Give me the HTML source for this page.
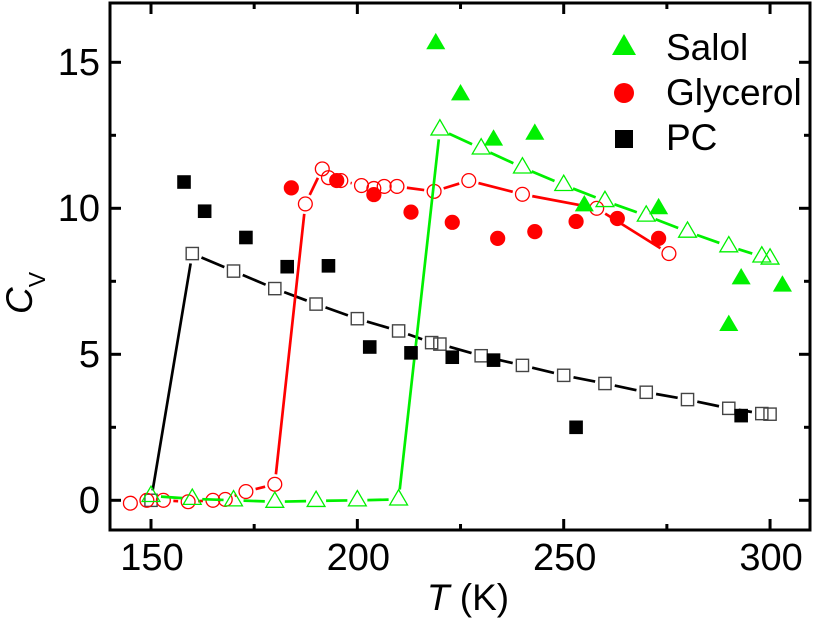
<!DOCTYPE html>
<html>
<head>
<meta charset="utf-8">
<style>
html,body{margin:0;padding:0;background:#fff;width:817px;height:620px;overflow:hidden}
svg{display:block}
text{font-family:"Liberation Sans",Arial,sans-serif;fill:#000}
</style>
</head>
<body>
<svg id="chart" width="817" height="620" viewBox="0 0 817 620" xmlns="http://www.w3.org/2000/svg"></svg>
<script>
var xTicks = [150, 200, 250, 300];
var xMinorTicks = [175, 225, 275];
var yTicks = [0, 5, 10, 15];
var yMinorTicks = [2.5, 7.5, 12.5];

var pcOpenT = [150, 160, 170, 180, 190, 200, 210, 218, 220, 230, 240, 250, 260, 270, 280, 290, 298, 300];
var pcOpenC = [0.0, 8.45, 7.85, 7.25, 6.72, 6.22, 5.8, 5.4, 5.35, 4.95, 4.62, 4.28, 4.0, 3.7, 3.45, 3.15, 2.97, 2.95];
var glycerolOpenT = [145, 149, 153, 159, 165, 168, 173, 180, 187.4, 191.5, 193, 196, 201, 204, 206.5, 209.6, 218.6, 227, 240, 258, 275.5];
var glycerolOpenC = [-0.1, 0.0, 0.0, -0.05, 0.0, 0.03, 0.3, 0.55, 10.15, 11.35, 11.05, 10.95, 10.78, 10.68, 10.75, 10.75, 10.58, 10.95, 10.48, 10.0, 8.45];
var salolOpenT = [150, 160, 170, 180, 190, 200, 210, 220, 230, 240, 250, 260, 270, 280, 290, 298, 300];
var salolOpenC = [0.15, 0.05, 0.0, -0.05, -0.02, 0.0, 0.03, 12.7, 12.05, 11.4, 10.8, 10.25, 9.75, 9.2, 8.7, 8.35, 8.28];

var pcSolidT = [158, 163, 173, 183, 193, 203, 213, 223, 233, 253, 293];
var pcSolidC = [10.9, 9.9, 9.0, 8.0, 8.03, 5.25, 5.05, 4.9, 4.8, 2.5, 2.9];
var glycerolSolidT = [184, 195, 204, 213, 223, 234, 243, 253, 263, 273];
var glycerolSolidC = [10.7, 10.95, 10.47, 9.87, 9.52, 8.97, 9.2, 9.55, 9.65, 8.97];
var salolSolidT = [219, 225, 233, 243, 255, 273, 290, 293, 303];
var salolSolidC = [15.65, 13.9, 12.35, 12.55, 10.1, 10.0, 6.0, 7.6, 7.35];

var legendLabels = ["Salol", "Glycerol", "PC"];

var NS = "http://www.w3.org/2000/svg";
var svg = document.getElementById("chart");
var GREEN = "#00f000", RED = "#ff0000", BLACK = "#000000";
var LEFT = 110, RIGHT = 810, TOP = 3, BOTTOM = 530;

function xScale(t) { return 151 + (t - 150) * 4.127; }
function yScale(c) { return 500.3 - c * 29.2; }

function el(tag, attrs, parent) {
  var e = document.createElementNS(NS, tag);
  for (var k in attrs) e.setAttribute(k, attrs[k]);
  (parent || svg).appendChild(e);
  return e;
}

function triPts(cx, cy, r) {
  var w = r * 1.06, up = r * 1.16, dn = r * 0.66;
  return (cx) + "," + (cy - up) + " " + (cx - w) + "," + (cy + dn) + " " + (cx + w) + "," + (cy + dn);
}

function drawMarker(kind, cx, cy, filled, color, name, parent) {
  var m;
  if (kind === "square") {
    var s = filled ? 6.8 : 6.1;
    m = el("rect", {x: cx - s, y: cy - s, width: 2 * s, height: 2 * s}, parent);
    m.setAttribute("fill", filled ? color : "none");
    m.setAttribute("stroke", filled ? "none" : "#444");
    m.setAttribute("stroke-width", filled ? 0 : 1.4);
  } else if (kind === "circle") {
    m = el("circle", {cx: cx, cy: cy, r: filled ? 7.6 : 6.9}, parent);
    m.setAttribute("fill", filled ? color : "none");
    m.setAttribute("stroke", filled ? "none" : color);
    m.setAttribute("stroke-width", filled ? 0 : 1.3);
  } else {
    m = el("polygon", {points: triPts(cx, cy, filled ? 9 : 8.4)}, parent);
    m.setAttribute("fill", filled ? color : "none");
    m.setAttribute("stroke", filled ? "none" : color);
    m.setAttribute("stroke-width", filled ? 0 : 1.3);
  }
  
  
  return m;
}

function drawOpenSeries(ts, cs, kind, color, name) {
  var g = el("g", {});
  
  
  var gap = 10;
  for (var i = 0; i < ts.length - 1; i++) {
    var x1 = xScale(ts[i]), y1 = yScale(cs[i]), x2 = xScale(ts[i + 1]), y2 = yScale(cs[i + 1]);
    var d = Math.hypot(x2 - x1, y2 - y1);
    if (d <= 2 * gap) continue;
    var ux = (x2 - x1) / d, uy = (y2 - y1) / d;
    var seg = el("line", {x1: x1 + ux * gap, y1: y1 + uy * gap, x2: x2 - ux * gap, y2: y2 - uy * gap, stroke: color, "stroke-width": 2.7}, g);
    
    
  }
  for (var j = 0; j < ts.length; j++) {
    drawMarker(kind, xScale(ts[j]), yScale(cs[j]), false, color, name + "-open-point", g);
  }
}

function drawSolidSeries(ts, cs, kind, color, name) {
  var g = el("g", {});
  
  
  for (var j = 0; j < ts.length; j++) {
    drawMarker(kind, xScale(ts[j]), yScale(cs[j]), true, color, name + "-solid-point", g);
  }
}

drawOpenSeries(pcOpenT, pcOpenC, "square", BLACK, "pc");
drawOpenSeries(glycerolOpenT, glycerolOpenC, "circle", RED, "glycerol");
drawOpenSeries(salolOpenT, salolOpenC, "triangle", GREEN, "salol");
drawSolidSeries(pcSolidT, pcSolidC, "square", BLACK, "pc");
drawSolidSeries(glycerolSolidT, glycerolSolidC, "circle", RED, "glycerol");
drawSolidSeries(salolSolidT, salolSolidC, "triangle", GREEN, "salol");

/* axes */
var frame = el("rect", {x: LEFT, y: TOP, width: RIGHT - LEFT, height: BOTTOM - TOP, fill: "none", stroke: "#000", "stroke-width": 3});



function tick(x1, y1, x2, y2, name) {
  var t = el("line", {x1: x1, y1: y1, x2: x2, y2: y2, stroke: "#000", "stroke-width": 3});
  
  
}

xTicks.forEach(function (v) {
  var x = xScale(v);
  tick(x, BOTTOM, x, BOTTOM - 11, "x-major-tick");
  tick(x, TOP, x, TOP + 11, "x-top-major-tick");
  var lab = el("text", {x: x + 1, y: 570, "text-anchor": "middle", "font-size": 38});
  lab.textContent = v;
  
  
});
xMinorTicks.forEach(function (v) {
  var x = xScale(v);
  tick(x, BOTTOM, x, BOTTOM - 6, "x-minor-tick");
  tick(x, TOP, x, TOP + 6, "x-top-minor-tick");
});
yTicks.forEach(function (v) {
  var y = yScale(v);
  tick(LEFT, y, LEFT + 11, y, "y-major-tick");
  tick(RIGHT, y, RIGHT - 11, y, "y-right-major-tick");
  var lab = el("text", {x: 100, y: y + 12.5, "text-anchor": "end", "font-size": 38});
  lab.textContent = v;
  
  
});
yMinorTicks.forEach(function (v) {
  var y = yScale(v);
  tick(LEFT, y, LEFT + 6, y, "y-minor-tick");
  tick(RIGHT, y, RIGHT - 6, y, "y-right-minor-tick");
});

/* axis titles */
var xTitle = el("text", {x: 468, y: 610, "text-anchor": "middle", "font-size": 37});


var xT = el("tspan", {"font-style": "italic"}, xTitle);
xT.textContent = "T";
var xU = el("tspan", {}, xTitle);
xU.textContent = " (K)";

var yTitle = el("text", {transform: "translate(32,314) rotate(-90)", "font-size": 37});


var yC = el("tspan", {"font-style": "italic"}, yTitle);
yC.textContent = "C";
var yV = el("tspan", {"font-size": 23, dy: 13}, yTitle);
yV.textContent = "V";

/* legend */
var legendKinds = ["triangle", "circle", "square"];
var legendColors = [GREEN, RED, BLACK];
var legendY = [60, 105, 150];
var markerY = [47, 93, 139];
var legend = el("g", {});


legendLabels.forEach(function (label, i) {
  var sym;
  if (legendKinds[i] === "triangle") {
    sym = el("polygon", {points: "624,34 612,55 636,55", fill: legendColors[i]}, legend);
  } else if (legendKinds[i] === "circle") {
    sym = el("circle", {cx: 624, cy: markerY[i], r: 10, fill: legendColors[i]}, legend);
  } else {
    sym = el("rect", {x: 615, y: markerY[i] - 9, width: 18, height: 18, fill: legendColors[i]}, legend);
  }
  
  
  var t = el("text", {x: 666, y: legendY[i], "font-size": 37}, legend);
  t.textContent = label;
  
  
});
</script>
</body>
</html>
